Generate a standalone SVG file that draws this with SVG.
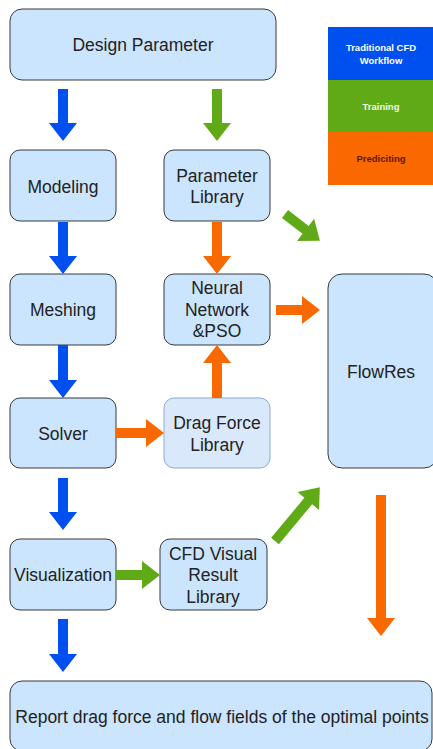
<svg xmlns="http://www.w3.org/2000/svg" width="433" height="749" viewBox="0 0 433 749">
<style>
.box{fill:#cce5ff;stroke:#36393d;stroke-width:1}
.lite{fill:#dae8fc;stroke:#8fa9cf;stroke-width:1}
.t{font-family:"Liberation Sans",Arial,sans-serif;font-size:17.5px;fill:#222;text-anchor:middle}
.lg{font-family:"Liberation Sans",Arial,sans-serif;font-size:9.5px;font-weight:bold;text-anchor:middle}
.b{fill:#0050ef}.g{fill:#60a917}.o{fill:#fa6800}
</style>
<rect width="433" height="749" fill="#ffffff"/>
<g id="legend">
<rect x="328" y="27" width="105" height="53" fill="#0050ef"/>
<rect x="328" y="80" width="105" height="52" fill="#60a917"/>
<rect x="328" y="132" width="105" height="53" fill="#fa6800"/>
<text class="lg" x="381" y="50.5" fill="#ffffff">Traditional CFD</text>
<text class="lg" x="381" y="64" fill="#ffffff">Workflow</text>
<text class="lg" x="381" y="109.5" fill="#f0f8e8">Training</text>
<text class="lg" x="381" y="161.5" fill="#5a1a00">Prediciting</text>
</g>
<g id="design-parameter">
<rect class="box" x="10" y="9" width="266" height="71" rx="12"/>
<text class="t" x="143" y="51">Design Parameter</text>
</g>
<g id="modeling">
<rect class="box" x="10" y="150" width="106" height="71" rx="10"/>
<text class="t" x="63" y="193">Modeling</text>
</g>
<g id="parameter-library">
<rect class="box" x="164" y="150" width="106" height="71" rx="10"/>
<text class="t" x="217" y="182">Parameter</text>
<text class="t" x="217" y="203">Library</text>
</g>
<g id="meshing">
<rect class="box" x="10" y="274" width="106" height="71" rx="10"/>
<text class="t" x="63" y="316">Meshing</text>
</g>
<g id="neural-network">
<rect class="box" x="164" y="274" width="106" height="71" rx="10"/>
<text class="t" x="217" y="294">Neural</text>
<text class="t" x="217" y="316">Network</text>
<text class="t" x="217" y="337">&amp;PSO</text>
</g>
<g id="flowres">
<rect class="box" x="328" y="274" width="110" height="194" rx="14"/>
<text class="t" x="381" y="378">FlowRes</text>
</g>
<g id="solver">
<rect class="box" x="10" y="398" width="106" height="70" rx="10"/>
<text class="t" x="63" y="440">Solver</text>
</g>
<g id="drag-force-library">
<rect class="lite" x="164" y="398" width="106" height="70" rx="10"/>
<text class="t" x="217" y="429">Drag Force</text>
<text class="t" x="217" y="451">Library</text>
</g>
<g id="visualization">
<rect class="box" x="10" y="539" width="106" height="71" rx="10"/>
<text class="t" x="63" y="581">Visualization</text>
</g>
<g id="cfd-visual-result-library">
<rect class="box" x="160" y="539" width="107" height="71" rx="10"/>
<text class="t" x="213" y="560">CFD Visual</text>
<text class="t" x="213" y="581">Result</text>
<text class="t" x="213" y="603">Library</text>
</g>
<g id="report">
<rect class="box" x="10" y="681" width="422" height="70" rx="12"/>
<text class="t" x="222" y="723">Report drag force and flow fields of the optimal points</text>
</g>
<g id="connectors">
<polygon class="b" points="58,89 68,89 68,123 77,123 63,141 49,123 58,123"/>
<polygon class="g" points="212,89 222,89 222,123 231,123 217,141 203,123 212,123"/>
<polygon class="b" points="58,222 68,222 68,256 77,256 63,274 49,256 58,256"/>
<polygon class="o" points="212,222 222,222 222,256 231,256 217,274 203,256 212,256"/>
<polygon class="b" points="58,345 68,345 68,380 77,380 63,398 49,380 58,380"/>
<polygon class="o" points="212,398 222,398 222,363 231,363 217,345 203,363 212,363"/>
<polygon class="b" points="58,478 68,478 68,512 77,512 63,530 49,512 58,512"/>
<polygon class="b" points="58,619 68,619 68,654 77,654 63,672 49,654 58,654"/>
<polygon class="o" points="376,495 386,495 386,618 395,618 381,636 367,618 376,618"/>
<polygon class="o" points="276,305 302,305 302,296 320,310 302,324 302,315 276,315"/>
<polygon class="o" points="116,428 146,428 146,419 164,433 146,447 146,438 116,438"/>
<polygon class="g" points="116,570 142,570 142,561 160,575 142,589 142,580 116,580"/>
<polygon class="g" transform="translate(285,214) rotate(37.6)" points="0,-5 26,-5 26,-14 44,0 26,14 26,5 0,5"/>
<polygon class="g" transform="translate(275,541) rotate(-50.2)" points="0,-5 52,-5 52,-14 70,0 52,14 52,5 0,5"/>
</g>
</svg>
